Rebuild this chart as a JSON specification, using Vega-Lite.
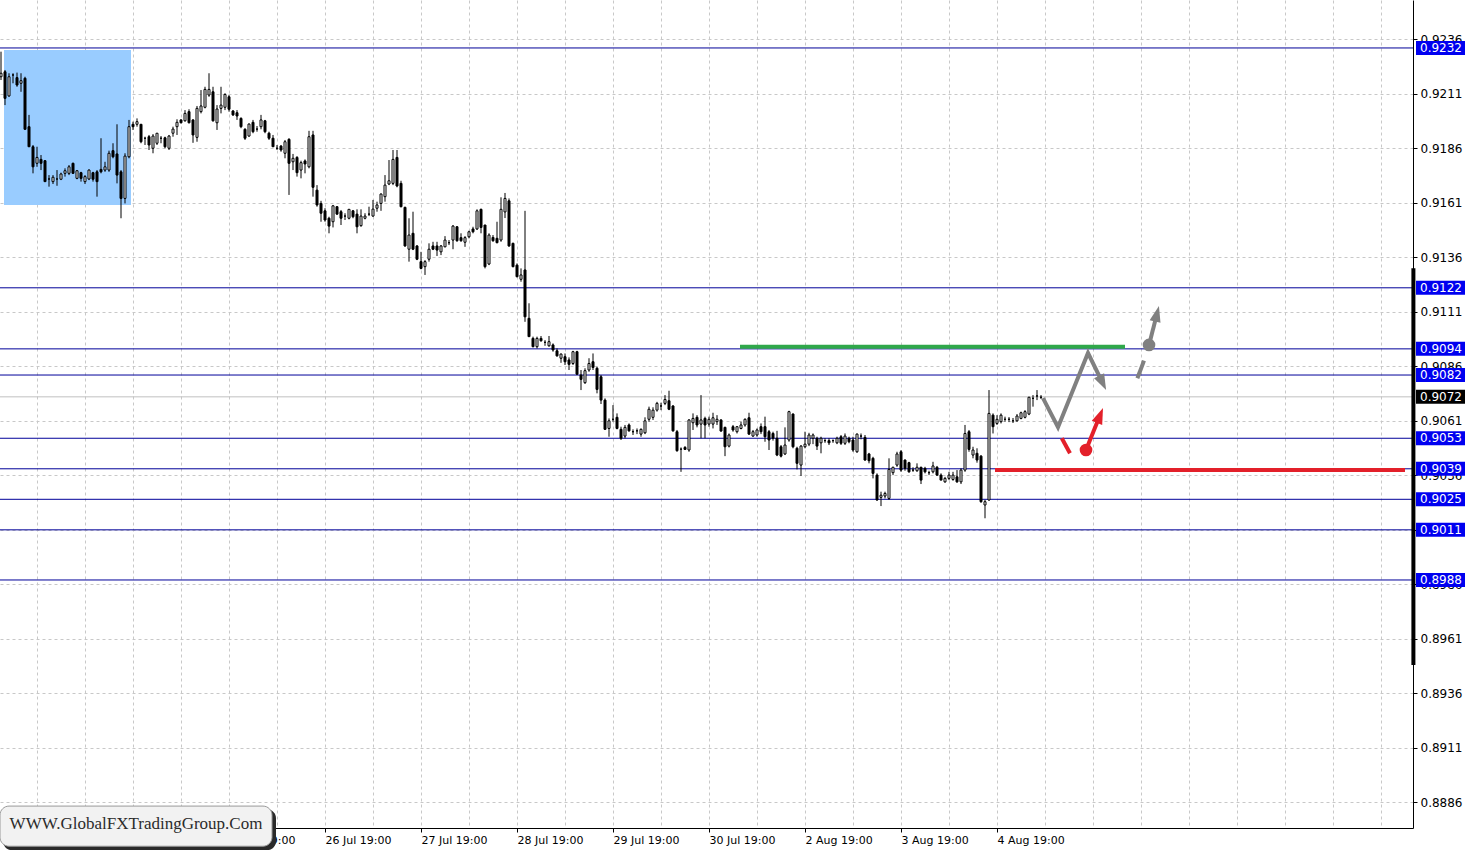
{
"$schema": "https://vega.github.io/schema/vega-lite/v6.json",
"width": 1413, "height": 828, "padding": {"left": 0, "top": 0, "right": 57, "bottom": 22}, "autosize": "none", "background": "white",
"config": {"view": {"stroke": null}, "text": {"font": "DejaVu Sans"}, "scale": {"continuousPadding": 0}},
"datasets": {
"levels": [{"p":0.9232},{"p":0.9122},{"p":0.9094},{"p":0.9082},{"p":0.9053},{"p":0.9039},{"p":0.9025},{"p":0.9011},{"p":0.8988}],
"lines": [
{"g":"zig","k":1,"x":260.5,"y":0.90714},{"g":"zig","k":2,"x":264.25,"y":0.90581},{"g":"zig","k":3,"x":271.75,"y":0.90921},{"g":"zig","k":4,"x":275.4,"y":0.90784},
{"g":"rdash","k":1,"x":265.2,"y":0.9053},{"g":"rdash","k":2,"x":267.25,"y":0.90461},
{"g":"rshaft","k":1,"x":271.25,"y":0.90476},{"g":"rshaft","k":2,"x":274.75,"y":0.90635},
{"g":"gdash","k":1,"x":284.1,"y":0.90805},{"g":"gdash","k":2,"x":285.75,"y":0.90886},
{"g":"gshaft","k":1,"x":287,"y":0.90958},{"g":"gshaft","k":2,"x":289,"y":0.91101}],
"candles": [
{"i":0,"o":0.92188,"h":0.92303,"l":0.92173,"c":0.92204},
{"i":1,"o":0.92211,"h":0.92219,"l":0.92058,"c":0.92089},
{"i":2,"o":0.921,"h":0.92204,"l":0.92096,"c":0.92188},
{"i":3,"o":0.92196,"h":0.92204,"l":0.92158,"c":0.92196},
{"i":4,"o":0.92184,"h":0.92207,"l":0.92142,"c":0.9215},
{"i":5,"o":0.92158,"h":0.92204,"l":0.92119,"c":0.9217},
{"i":6,"o":0.92181,"h":0.92188,"l":0.91944,"c":0.91947},
{"i":7,"o":0.91959,"h":0.92013,"l":0.91867,"c":0.91867},
{"i":8,"o":0.91867,"h":0.91875,"l":0.91745,"c":0.91775},
{"i":9,"o":0.91791,"h":0.91867,"l":0.91775,"c":0.91818},
{"i":10,"o":0.91809,"h":0.91829,"l":0.9176,"c":0.91791},
{"i":11,"o":0.91803,"h":0.91806,"l":0.91707,"c":0.91707},
{"i":12,"o":0.91719,"h":0.91737,"l":0.91684,"c":0.91719},
{"i":13,"o":0.91707,"h":0.91737,"l":0.91696,"c":0.91727},
{"i":14,"o":0.91719,"h":0.9176,"l":0.91688,"c":0.91719},
{"i":15,"o":0.91718,"h":0.91748,"l":0.91714,"c":0.91742},
{"i":16,"o":0.91745,"h":0.91768,"l":0.9173,"c":0.91757},
{"i":17,"o":0.91745,"h":0.91783,"l":0.91737,"c":0.91775},
{"i":18,"o":0.91791,"h":0.91794,"l":0.91742,"c":0.91745},
{"i":19,"o":0.91722,"h":0.9176,"l":0.91718,"c":0.91757},
{"i":20,"o":0.91748,"h":0.91752,"l":0.91707,"c":0.91722},
{"i":21,"o":0.91707,"h":0.91737,"l":0.91696,"c":0.9173},
{"i":22,"o":0.91719,"h":0.91763,"l":0.91714,"c":0.9176},
{"i":23,"o":0.91748,"h":0.91752,"l":0.91707,"c":0.91718},
{"i":24,"o":0.91752,"h":0.9176,"l":0.91638,"c":0.91707},
{"i":25,"o":0.91763,"h":0.91906,"l":0.91745,"c":0.91752},
{"i":26,"o":0.9176,"h":0.91798,"l":0.91752,"c":0.91775},
{"i":27,"o":0.9176,"h":0.91849,"l":0.91752,"c":0.91837},
{"i":28,"o":0.91849,"h":0.91883,"l":0.91814,"c":0.91821},
{"i":29,"o":0.91834,"h":0.9197,"l":0.91699,"c":0.91737},
{"i":30,"o":0.91752,"h":0.9176,"l":0.91539,"c":0.9163},
{"i":31,"o":0.9163,"h":0.91837,"l":0.91607,"c":0.91824},
{"i":32,"o":0.91821,"h":0.9199,"l":0.91814,"c":0.91959},
{"i":33,"o":0.9197,"h":0.91982,"l":0.91944,"c":0.91959},
{"i":34,"o":0.9197,"h":0.91997,"l":0.91959,"c":0.91982},
{"i":35,"o":0.9197,"h":0.9197,"l":0.91883,"c":0.9189},
{"i":36,"o":0.91906,"h":0.91913,"l":0.91875,"c":0.91906},
{"i":37,"o":0.91913,"h":0.91921,"l":0.91852,"c":0.91875},
{"i":38,"o":0.9186,"h":0.91925,"l":0.91837,"c":0.91916},
{"i":39,"o":0.91883,"h":0.91929,"l":0.91875,"c":0.91929},
{"i":40,"o":0.91906,"h":0.91916,"l":0.91883,"c":0.91906},
{"i":41,"o":0.91908,"h":0.91913,"l":0.9186,"c":0.91867},
{"i":42,"o":0.9186,"h":0.91921,"l":0.91852,"c":0.91916},
{"i":43,"o":0.91929,"h":0.91959,"l":0.91913,"c":0.91948},
{"i":44,"o":0.91959,"h":0.91993,"l":0.91921,"c":0.91979},
{"i":45,"o":0.9199,"h":0.91993,"l":0.91974,"c":0.91977},
{"i":46,"o":0.91986,"h":0.92035,"l":0.91982,"c":0.9202},
{"i":47,"o":0.92028,"h":0.92039,"l":0.91974,"c":0.91977},
{"i":48,"o":0.9199,"h":0.91993,"l":0.91885,"c":0.91921},
{"i":49,"o":0.9191,"h":0.92054,"l":0.9189,"c":0.92043},
{"i":50,"o":0.92028,"h":0.92127,"l":0.9202,"c":0.92054},
{"i":51,"o":0.92048,"h":0.92142,"l":0.92043,"c":0.9213},
{"i":52,"o":0.92104,"h":0.92204,"l":0.92096,"c":0.9213},
{"i":53,"o":0.92119,"h":0.92142,"l":0.91982,"c":0.91986},
{"i":54,"o":0.91977,"h":0.92058,"l":0.91944,"c":0.9204},
{"i":55,"o":0.92043,"h":0.92142,"l":0.9202,"c":0.92058},
{"i":56,"o":0.92048,"h":0.92112,"l":0.92035,"c":0.92107},
{"i":57,"o":0.92096,"h":0.92104,"l":0.92028,"c":0.92039},
{"i":58,"o":0.92031,"h":0.92035,"l":0.92008,"c":0.92013},
{"i":59,"o":0.92023,"h":0.92035,"l":0.9199,"c":0.92008},
{"i":60,"o":0.91997,"h":0.92002,"l":0.91952,"c":0.91959},
{"i":61,"o":0.91947,"h":0.91952,"l":0.91898,"c":0.91906},
{"i":62,"o":0.91916,"h":0.91974,"l":0.91913,"c":0.91971},
{"i":63,"o":0.91979,"h":0.9199,"l":0.91929,"c":0.91936},
{"i":64,"o":0.91948,"h":0.91962,"l":0.91936,"c":0.91948},
{"i":65,"o":0.91959,"h":0.92013,"l":0.91947,"c":0.9199},
{"i":66,"o":0.91986,"h":0.9199,"l":0.91929,"c":0.91936},
{"i":67,"o":0.91929,"h":0.91936,"l":0.91898,"c":0.91906},
{"i":68,"o":0.91906,"h":0.91921,"l":0.91867,"c":0.91867},
{"i":69,"o":0.9186,"h":0.91875,"l":0.91852,"c":0.9186},
{"i":70,"o":0.9187,"h":0.91875,"l":0.91844,"c":0.91852},
{"i":71,"o":0.91837,"h":0.91898,"l":0.91814,"c":0.9189},
{"i":72,"o":0.91901,"h":0.91906,"l":0.91646,"c":0.91791},
{"i":73,"o":0.91798,"h":0.91834,"l":0.9176,"c":0.91814},
{"i":74,"o":0.91818,"h":0.91824,"l":0.9173,"c":0.91748},
{"i":75,"o":0.9176,"h":0.91803,"l":0.91722,"c":0.91794},
{"i":76,"o":0.91802,"h":0.91809,"l":0.91745,"c":0.91788},
{"i":77,"o":0.91775,"h":0.9194,"l":0.91768,"c":0.91913},
{"i":78,"o":0.91921,"h":0.9194,"l":0.91638,"c":0.91681},
{"i":79,"o":0.91668,"h":0.91691,"l":0.91592,"c":0.916},
{"i":80,"o":0.91607,"h":0.91619,"l":0.91523,"c":0.91562},
{"i":81,"o":0.91573,"h":0.91585,"l":0.91523,"c":0.91531},
{"i":82,"o":0.91539,"h":0.91546,"l":0.9147,"c":0.91503},
{"i":83,"o":0.91523,"h":0.916,"l":0.91497,"c":0.91596},
{"i":84,"o":0.91592,"h":0.91595,"l":0.91554,"c":0.91558},
{"i":85,"o":0.91569,"h":0.91577,"l":0.91508,"c":0.91539},
{"i":86,"o":0.91549,"h":0.91562,"l":0.91531,"c":0.91549},
{"i":87,"o":0.91539,"h":0.91581,"l":0.91534,"c":0.9158},
{"i":88,"o":0.91573,"h":0.91577,"l":0.91539,"c":0.91546},
{"i":89,"o":0.91558,"h":0.9158,"l":0.9147,"c":0.915},
{"i":90,"o":0.91505,"h":0.9158,"l":0.915,"c":0.91549},
{"i":91,"o":0.91539,"h":0.91562,"l":0.91534,"c":0.91549},
{"i":92,"o":0.91558,"h":0.91592,"l":0.91549,"c":0.91558},
{"i":93,"o":0.91549,"h":0.91623,"l":0.91546,"c":0.91581},
{"i":94,"o":0.91585,"h":0.91615,"l":0.91569,"c":0.916},
{"i":95,"o":0.91607,"h":0.91653,"l":0.91573,"c":0.9165},
{"i":96,"o":0.91638,"h":0.91737,"l":0.91615,"c":0.91691},
{"i":97,"o":0.91696,"h":0.91806,"l":0.91691,"c":0.91711},
{"i":98,"o":0.91699,"h":0.91852,"l":0.91691,"c":0.91809},
{"i":99,"o":0.91818,"h":0.91852,"l":0.91681,"c":0.91687},
{"i":100,"o":0.91699,"h":0.91711,"l":0.91589,"c":0.91592},
{"i":101,"o":0.91589,"h":0.91592,"l":0.91408,"c":0.91412},
{"i":102,"o":0.91397,"h":0.91539,"l":0.9134,"c":0.91462},
{"i":103,"o":0.9147,"h":0.91569,"l":0.91393,"c":0.91397},
{"i":104,"o":0.91412,"h":0.91416,"l":0.91347,"c":0.91351},
{"i":105,"o":0.9134,"h":0.91385,"l":0.91305,"c":0.91309},
{"i":106,"o":0.91317,"h":0.91347,"l":0.91279,"c":0.9134},
{"i":107,"o":0.91351,"h":0.91424,"l":0.9134,"c":0.91397},
{"i":108,"o":0.91412,"h":0.91431,"l":0.91393,"c":0.91397},
{"i":109,"o":0.91412,"h":0.91431,"l":0.91366,"c":0.91393},
{"i":110,"o":0.91385,"h":0.91416,"l":0.9137,"c":0.91412},
{"i":111,"o":0.91408,"h":0.91457,"l":0.91406,"c":0.91439},
{"i":112,"o":0.91427,"h":0.91439,"l":0.91416,"c":0.91427},
{"i":113,"o":0.91439,"h":0.91508,"l":0.91397,"c":0.91503},
{"i":114,"o":0.915,"h":0.91503,"l":0.91431,"c":0.91436},
{"i":115,"o":0.9145,"h":0.9147,"l":0.91431,"c":0.91436},
{"i":116,"o":0.91429,"h":0.91457,"l":0.91408,"c":0.9145},
{"i":117,"o":0.91454,"h":0.91482,"l":0.91447,"c":0.91477},
{"i":118,"o":0.9149,"h":0.915,"l":0.9147,"c":0.91477},
{"i":119,"o":0.9149,"h":0.9158,"l":0.91485,"c":0.91573},
{"i":120,"o":0.9158,"h":0.91583,"l":0.9147,"c":0.91497},
{"i":121,"o":0.91508,"h":0.91508,"l":0.91309,"c":0.91317},
{"i":122,"o":0.91329,"h":0.9147,"l":0.91324,"c":0.91462},
{"i":123,"o":0.91451,"h":0.91462,"l":0.91431,"c":0.91436},
{"i":124,"o":0.91447,"h":0.91523,"l":0.91424,"c":0.91427},
{"i":125,"o":0.91439,"h":0.91635,"l":0.91431,"c":0.9158},
{"i":126,"o":0.91568,"h":0.91655,"l":0.9154,"c":0.9163},
{"i":127,"o":0.91619,"h":0.9163,"l":0.91408,"c":0.91412},
{"i":128,"o":0.91424,"h":0.91427,"l":0.91314,"c":0.91317},
{"i":129,"o":0.91324,"h":0.91332,"l":0.91268,"c":0.91271},
{"i":130,"o":0.91259,"h":0.91309,"l":0.91248,"c":0.91279},
{"i":131,"o":0.91302,"h":0.91573,"l":0.91064,"c":0.91087},
{"i":132,"o":0.9108,"h":0.91149,"l":0.90996,"c":0.90996},
{"i":133,"o":0.90988,"h":0.90996,"l":0.90947,"c":0.9095},
{"i":134,"o":0.9095,"h":0.90996,"l":0.90942,"c":0.90988},
{"i":135,"o":0.90988,"h":0.90999,"l":0.90973,"c":0.90977},
{"i":136,"o":0.9097,"h":0.9098,"l":0.90954,"c":0.9097},
{"i":137,"o":0.90954,"h":0.90999,"l":0.9095,"c":0.90973},
{"i":138,"o":0.90958,"h":0.90965,"l":0.90927,"c":0.90935},
{"i":139,"o":0.90931,"h":0.90942,"l":0.90904,"c":0.90908},
{"i":140,"o":0.90897,"h":0.90919,"l":0.90876,"c":0.90916},
{"i":141,"o":0.90904,"h":0.90919,"l":0.90866,"c":0.90881},
{"i":142,"o":0.90889,"h":0.90901,"l":0.90843,"c":0.90869},
{"i":143,"o":0.90873,"h":0.90931,"l":0.90866,"c":0.90927},
{"i":144,"o":0.90927,"h":0.90931,"l":0.9082,"c":0.90824},
{"i":145,"o":0.9082,"h":0.90843,"l":0.90751,"c":0.908},
{"i":146,"o":0.90785,"h":0.90851,"l":0.90779,"c":0.9084},
{"i":147,"o":0.90843,"h":0.90897,"l":0.90835,"c":0.90873},
{"i":148,"o":0.90881,"h":0.90919,"l":0.90843,"c":0.90855},
{"i":149,"o":0.90851,"h":0.90858,"l":0.90736,"c":0.90754},
{"i":150,"o":0.90812,"h":0.9082,"l":0.90687,"c":0.90705},
{"i":151,"o":0.90705,"h":0.90713,"l":0.90568,"c":0.90571},
{"i":152,"o":0.90575,"h":0.90621,"l":0.90537,"c":0.9061},
{"i":153,"o":0.90617,"h":0.90682,"l":0.90606,"c":0.90617},
{"i":154,"o":0.90626,"h":0.90644,"l":0.90571,"c":0.90575},
{"i":155,"o":0.90571,"h":0.90583,"l":0.90522,"c":0.9053},
{"i":156,"o":0.9054,"h":0.90591,"l":0.9053,"c":0.9058},
{"i":157,"o":0.90591,"h":0.90598,"l":0.9056,"c":0.90564},
{"i":158,"o":0.9056,"h":0.90571,"l":0.90545,"c":0.9056},
{"i":159,"o":0.90564,"h":0.90575,"l":0.90549,"c":0.90564},
{"i":160,"o":0.90549,"h":0.90575,"l":0.90537,"c":0.90571},
{"i":161,"o":0.90555,"h":0.90626,"l":0.90549,"c":0.9061},
{"i":162,"o":0.90617,"h":0.90675,"l":0.90606,"c":0.90663},
{"i":163,"o":0.90626,"h":0.90672,"l":0.90614,"c":0.90659},
{"i":164,"o":0.90659,"h":0.90697,"l":0.90652,"c":0.9069},
{"i":165,"o":0.90678,"h":0.90693,"l":0.90659,"c":0.90678},
{"i":166,"o":0.9069,"h":0.90728,"l":0.90682,"c":0.90708},
{"i":167,"o":0.90702,"h":0.90748,"l":0.90659,"c":0.90663},
{"i":168,"o":0.90678,"h":0.90682,"l":0.9056,"c":0.90564},
{"i":169,"o":0.9056,"h":0.90568,"l":0.90468,"c":0.90473},
{"i":170,"o":0.9048,"h":0.90488,"l":0.90376,"c":0.9048},
{"i":171,"o":0.90488,"h":0.90494,"l":0.90476,"c":0.90479},
{"i":172,"o":0.90476,"h":0.90617,"l":0.90468,"c":0.90614},
{"i":173,"o":0.90601,"h":0.90644,"l":0.90568,"c":0.90621},
{"i":174,"o":0.90626,"h":0.90636,"l":0.9058,"c":0.90591},
{"i":175,"o":0.90595,"h":0.90728,"l":0.9053,"c":0.90614},
{"i":176,"o":0.90621,"h":0.90629,"l":0.9053,"c":0.90591},
{"i":177,"o":0.90595,"h":0.90629,"l":0.90583,"c":0.90617},
{"i":178,"o":0.90595,"h":0.90647,"l":0.90575,"c":0.90624},
{"i":179,"o":0.90606,"h":0.90636,"l":0.90591,"c":0.90617},
{"i":180,"o":0.90614,"h":0.90617,"l":0.9056,"c":0.90563},
{"i":181,"o":0.9058,"h":0.90583,"l":0.90448,"c":0.90491},
{"i":182,"o":0.90494,"h":0.90552,"l":0.90488,"c":0.90545},
{"i":183,"o":0.90583,"h":0.90591,"l":0.9056,"c":0.90568},
{"i":184,"o":0.9056,"h":0.90586,"l":0.90552,"c":0.90583},
{"i":185,"o":0.90575,"h":0.90606,"l":0.90571,"c":0.90591},
{"i":186,"o":0.90591,"h":0.90621,"l":0.90583,"c":0.90617},
{"i":187,"o":0.90624,"h":0.90647,"l":0.90545,"c":0.90549},
{"i":188,"o":0.9054,"h":0.90568,"l":0.90537,"c":0.9056},
{"i":189,"o":0.90545,"h":0.90575,"l":0.90537,"c":0.90568},
{"i":190,"o":0.90583,"h":0.90598,"l":0.90549,"c":0.9056},
{"i":191,"o":0.90583,"h":0.90629,"l":0.90514,"c":0.90537},
{"i":192,"o":0.9056,"h":0.90568,"l":0.90476,"c":0.90522},
{"i":193,"o":0.90552,"h":0.9056,"l":0.90519,"c":0.9053},
{"i":194,"o":0.9053,"h":0.90564,"l":0.90448,"c":0.90453},
{"i":195,"o":0.90491,"h":0.90499,"l":0.90442,"c":0.90448},
{"i":196,"o":0.90458,"h":0.9058,"l":0.90453,"c":0.90499},
{"i":197,"o":0.90522,"h":0.90656,"l":0.90514,"c":0.90652},
{"i":198,"o":0.90641,"h":0.90644,"l":0.90484,"c":0.90491},
{"i":199,"o":0.90484,"h":0.90491,"l":0.90387,"c":0.90415},
{"i":200,"o":0.90407,"h":0.90499,"l":0.90357,"c":0.90494},
{"i":201,"o":0.90491,"h":0.9056,"l":0.90484,"c":0.90503},
{"i":202,"o":0.90503,"h":0.90555,"l":0.90494,"c":0.90545},
{"i":203,"o":0.9053,"h":0.90552,"l":0.90503,"c":0.90545},
{"i":204,"o":0.9053,"h":0.90537,"l":0.90476,"c":0.90494},
{"i":205,"o":0.90509,"h":0.90537,"l":0.90461,"c":0.9053},
{"i":206,"o":0.90519,"h":0.9053,"l":0.90509,"c":0.90519},
{"i":207,"o":0.90519,"h":0.9053,"l":0.90499,"c":0.90509},
{"i":208,"o":0.90519,"h":0.90525,"l":0.90509,"c":0.90519},
{"i":209,"o":0.90509,"h":0.90537,"l":0.90503,"c":0.9053},
{"i":210,"o":0.90537,"h":0.90545,"l":0.90499,"c":0.90507},
{"i":211,"o":0.90507,"h":0.90552,"l":0.90499,"c":0.9054},
{"i":212,"o":0.9053,"h":0.90537,"l":0.90507,"c":0.90514},
{"i":213,"o":0.90522,"h":0.90537,"l":0.90468,"c":0.90476},
{"i":214,"o":0.90468,"h":0.90552,"l":0.90463,"c":0.90549},
{"i":215,"o":0.9054,"h":0.90552,"l":0.90525,"c":0.9054},
{"i":216,"o":0.90534,"h":0.90545,"l":0.90427,"c":0.9043},
{"i":217,"o":0.90458,"h":0.90463,"l":0.90415,"c":0.90427},
{"i":218,"o":0.90438,"h":0.90445,"l":0.90346,"c":0.90369},
{"i":219,"o":0.90361,"h":0.90369,"l":0.90243,"c":0.90247},
{"i":220,"o":0.90259,"h":0.90285,"l":0.90219,"c":0.90269},
{"i":221,"o":0.90265,"h":0.90285,"l":0.90254,"c":0.90277},
{"i":222,"o":0.90254,"h":0.90438,"l":0.90247,"c":0.90387},
{"i":223,"o":0.90372,"h":0.90399,"l":0.90361,"c":0.90397},
{"i":224,"o":0.90407,"h":0.90468,"l":0.90399,"c":0.90458},
{"i":225,"o":0.90468,"h":0.90476,"l":0.90376,"c":0.90384},
{"i":226,"o":0.9043,"h":0.90433,"l":0.90381,"c":0.90392},
{"i":227,"o":0.90418,"h":0.90422,"l":0.90372,"c":0.90376},
{"i":228,"o":0.90384,"h":0.90397,"l":0.90376,"c":0.90384},
{"i":229,"o":0.90381,"h":0.90415,"l":0.90376,"c":0.90397},
{"i":230,"o":0.90397,"h":0.90399,"l":0.9032,"c":0.90338},
{"i":231,"o":0.90392,"h":0.90399,"l":0.90369,"c":0.90376},
{"i":232,"o":0.90372,"h":0.90381,"l":0.90361,"c":0.90372},
{"i":233,"o":0.90376,"h":0.90422,"l":0.90369,"c":0.90403},
{"i":234,"o":0.90397,"h":0.90403,"l":0.90357,"c":0.90361},
{"i":235,"o":0.90361,"h":0.90369,"l":0.90338,"c":0.90338},
{"i":236,"o":0.9033,"h":0.90353,"l":0.90326,"c":0.90346},
{"i":237,"o":0.90346,"h":0.90376,"l":0.90338,"c":0.90361},
{"i":238,"o":0.90341,"h":0.90376,"l":0.90335,"c":0.90361},
{"i":239,"o":0.90353,"h":0.90384,"l":0.90326,"c":0.9033},
{"i":240,"o":0.9033,"h":0.90392,"l":0.9032,"c":0.90384},
{"i":241,"o":0.90384,"h":0.90591,"l":0.90376,"c":0.90552},
{"i":242,"o":0.9056,"h":0.90568,"l":0.90468,"c":0.90479},
{"i":243,"o":0.90453,"h":0.90491,"l":0.90438,"c":0.90476},
{"i":244,"o":0.90461,"h":0.90484,"l":0.90418,"c":0.9043},
{"i":245,"o":0.90448,"h":0.90453,"l":0.90234,"c":0.90239},
{"i":246,"o":0.90224,"h":0.90247,"l":0.90163,"c":0.90239},
{"i":247,"o":0.90247,"h":0.90751,"l":0.90243,"c":0.90644},
{"i":248,"o":0.90636,"h":0.90644,"l":0.90552,"c":0.90583},
{"i":249,"o":0.90598,"h":0.90636,"l":0.90591,"c":0.90617},
{"i":250,"o":0.90606,"h":0.90644,"l":0.90598,"c":0.90636},
{"i":251,"o":0.90617,"h":0.90629,"l":0.90606,"c":0.90617},
{"i":252,"o":0.90617,"h":0.90627,"l":0.90604,"c":0.90617},
{"i":253,"o":0.9061,"h":0.90623,"l":0.906,"c":0.9061},
{"i":254,"o":0.9061,"h":0.90641,"l":0.90606,"c":0.90632},
{"i":255,"o":0.90621,"h":0.90652,"l":0.90617,"c":0.90647},
{"i":256,"o":0.90626,"h":0.90659,"l":0.90621,"c":0.90652},
{"i":257,"o":0.90641,"h":0.9072,"l":0.90636,"c":0.90718},
{"i":258,"o":0.90713,"h":0.90728,"l":0.90675,"c":0.90713},
{"i":259,"o":0.90724,"h":0.90751,"l":0.90705,"c":0.90724},
{"i":260,"o":0.90718,"h":0.90728,"l":0.9071,"c":0.90718}
]
},
"layer": [
{"data": {"values": [{"x": 0.75, "x2": 32.5, "y": 0.92311, "y2": 0.916}]},
 "mark": {"type": "rect", "color": "#99CCFF"},
 "encoding": {
  "x": {"field": "x", "type": "quantitative", "scale": {"domain": [-0.25, 353], "nice": false, "zero": false, "padding": 0},
   "axis": {"values": [9,21,33,45,57,69,81,93,105,117,129,141,153,165,177,189,201,213,225,237,249,261,273,285,297,309,321,333,345],
    "labelExpr": "(datum.value-9)%24==0 ? (['21 Jul 19:00','22 Jul 19:00','23 Jul 19:00','26 Jul 19:00','27 Jul 19:00','28 Jul 19:00','29 Jul 19:00','30 Jul 19:00','2 Aug 19:00','3 Aug 19:00','4 Aug 19:00'][(datum.value-9)/24] || '') : ''",
    "grid": true, "gridColor": "#c8c8c8", "gridDash": [3, 3], "gridWidth": 1,
    "domainColor": "#000000", "domainWidth": 1, "tickSize": 4,
    "tickColor": {"condition": {"test": "(datum.value-9)%24==0 && datum.value<=249", "value": "#000000"}, "value": "transparent"},
    "labelAlign": "left", "labelBaseline": "top", "labelPadding": 2, "labelFont": "DejaVu Sans", "labelFontSize": 11, "labelColor": "#000000",
    "labelOverlap": false, "labelFlush": false, "labelBound": false, "title": null}},
  "x2": {"field": "x2"},
  "y": {"field": "y", "type": "quantitative", "scale": {"domain": [0.887425, 0.9254], "nice": false, "zero": false, "padding": 0},
   "axis": {"orient": "right", "values": [0.9236,0.9211,0.9186,0.9161,0.9136,0.9111,0.9086,0.9061,0.9036,0.9011,0.8986,0.8961,0.8936,0.8911,0.8886],
    "format": ".4f", "grid": true, "gridColor": "#c8c8c8", "gridDash": [3, 3], "gridWidth": 1,
    "domainColor": "#000000", "tickColor": "#000000", "tickSize": 4, "labelPadding": 3,
    "labelFont": "DejaVu Sans", "labelFontSize": 12, "labelColor": "#000000", "labelBaseline": "middle",
    "labelOverlap": false, "labelFlush": false, "labelBound": false, "title": null}},
  "y2": {"field": "y2"}}},
{"data": {"values": [{"p": 0.9072}]},
 "mark": {"type": "rule", "color": "#C0C0C0", "strokeWidth": 1},
 "encoding": {"y": {"field": "p", "type": "quantitative", "axis": {"title": null}}}},
{"data": {"name": "levels"},
 "mark": {"type": "rule", "color": "#000099", "strokeWidth": 1},
 "encoding": {"y": {"field": "p", "type": "quantitative", "axis": {"title": null}}}},
{"data": {"name": "candles"},
 "mark": {"type": "rule", "color": "#000000", "strokeWidth": 1},
 "encoding": {"x": {"field": "i", "type": "quantitative", "axis": {"title": null}}, "y": {"field": "l", "type": "quantitative", "axis": {"title": null}}, "y2": {"field": "h"}}},
{"data": {"name": "candles"},
 "mark": {"type": "bar", "width": 2, "stroke": "#000000", "strokeWidth": 1},
 "encoding": {"x": {"field": "i", "type": "quantitative", "axis": {"title": null}}, "y": {"field": "o", "type": "quantitative", "axis": {"title": null}}, "y2": {"field": "c"},
  "fill": {"condition": {"test": "datum.c >= datum.o", "value": "#ffffff"}, "value": "#000000"}}},
{"data": {"values": [{"x": 184.75, "x2": 281, "p": 0.9095}]},
 "mark": {"type": "rule", "color": "#2FA84A", "strokeWidth": 4},
 "encoding": {"x": {"field": "x", "type": "quantitative", "axis": {"title": null}}, "x2": {"field": "x2"}, "y": {"field": "p", "type": "quantitative", "axis": {"title": null}}}},
{"data": {"values": [{"x": 248.5, "x2": 351, "p": 0.90384}]},
 "mark": {"type": "rule", "color": "#E3202A", "strokeWidth": 4},
 "encoding": {"x": {"field": "x", "type": "quantitative", "axis": {"title": null}}, "x2": {"field": "x2"}, "y": {"field": "p", "type": "quantitative", "axis": {"title": null}}}},
{"data": {"name": "lines"},
 "transform": [{"filter": "datum.g=='zig' || datum.g=='gdash' || datum.g=='gshaft'"}],
 "mark": {"type": "line", "color": "#808080", "strokeWidth": 4, "strokeCap": "butt"},
 "encoding": {"x": {"field": "x", "type": "quantitative", "axis": {"title": null}}, "y": {"field": "y", "type": "quantitative", "axis": {"title": null}}, "detail": {"field": "g"}, "order": {"field": "k"}}},
{"data": {"name": "lines"},
 "transform": [{"filter": "datum.g=='rdash' || datum.g=='rshaft'"}],
 "mark": {"type": "line", "color": "#E3202A", "strokeWidth": 4, "strokeCap": "butt"},
 "encoding": {"x": {"field": "x", "type": "quantitative", "axis": {"title": null}}, "y": {"field": "y", "type": "quantitative", "axis": {"title": null}}, "detail": {"field": "g"}, "order": {"field": "k"}}},
{"data": {"values": [{"x": 275.4, "y": 0.90784}]},
 "mark": {"type": "point", "shape": "M0,-1L0.7,1L-0.7,1Z", "size": 256, "filled": true, "opacity": 1, "color": "#808080", "angle": 154},
 "encoding": {"x": {"field": "x", "type": "quantitative", "axis": {"title": null}}, "y": {"field": "y", "type": "quantitative", "axis": {"title": null}}}},
{"data": {"values": [{"x": 289, "y": 0.91101}]},
 "mark": {"type": "point", "shape": "M0,-1L0.7,1L-0.7,1Z", "size": 256, "filled": true, "opacity": 1, "color": "#808080", "angle": 14},
 "encoding": {"x": {"field": "x", "type": "quantitative", "axis": {"title": null}}, "y": {"field": "y", "type": "quantitative", "axis": {"title": null}}}},
{"data": {"values": [{"x": 274.75, "y": 0.90635}]},
 "mark": {"type": "point", "shape": "M0,-1L0.7,1L-0.7,1Z", "size": 256, "filled": true, "opacity": 1, "color": "#E3202A", "angle": 22},
 "encoding": {"x": {"field": "x", "type": "quantitative", "axis": {"title": null}}, "y": {"field": "y", "type": "quantitative", "axis": {"title": null}}}},
{"data": {"values": [{"x": 287, "y": 0.90958}]},
 "mark": {"type": "circle", "size": 160, "opacity": 1, "color": "#808080"},
 "encoding": {"x": {"field": "x", "type": "quantitative", "axis": {"title": null}}, "y": {"field": "y", "type": "quantitative", "axis": {"title": null}}}},
{"data": {"values": [{"x": 271.25, "y": 0.90476}]},
 "mark": {"type": "circle", "size": 160, "opacity": 1, "color": "#E3202A"},
 "encoding": {"x": {"field": "x", "type": "quantitative", "axis": {"title": null}}, "y": {"field": "y", "type": "quantitative", "axis": {"title": null}}}},
{"data": {"values": [{"p": 0.9131, "p2": 0.8949}]},
 "mark": {"type": "rule", "color": "#000000", "strokeWidth": 4},
 "encoding": {"x": {"datum": 353.1, "type": "quantitative", "axis": {"title": null}}, "y": {"field": "p", "type": "quantitative", "axis": {"title": null}}, "y2": {"field": "p2"}}},
{"data": {"name": "levels"},
 "mark": {"type": "bar", "height": 14, "color": "#0000F0"},
 "encoding": {"x": {"datum": 353.75, "type": "quantitative", "axis": {"title": null}}, "x2": {"datum": 366}, "y": {"field": "p", "type": "quantitative", "axis": {"title": null}}}},
{"data": {"values": [{"p": 0.9072}]},
 "mark": {"type": "bar", "height": 14, "color": "#000000"},
 "encoding": {"x": {"datum": 353.75, "type": "quantitative", "axis": {"title": null}}, "x2": {"datum": 366}, "y": {"field": "p", "type": "quantitative", "axis": {"title": null}}}},
{"data": {"name": "levels"},
 "mark": {"type": "text", "align": "left", "baseline": "middle", "color": "#ffffff", "font": "DejaVu Sans", "fontSize": 12},
 "encoding": {"x": {"datum": 354.75, "type": "quantitative", "axis": {"title": null}}, "y": {"field": "p", "type": "quantitative", "axis": {"title": null}}, "text": {"field": "p", "type": "quantitative", "format": ".4f"}}},
{"data": {"values": [{"p": 0.9072}]},
 "mark": {"type": "text", "align": "left", "baseline": "middle", "color": "#ffffff", "font": "DejaVu Sans", "fontSize": 12},
 "encoding": {"x": {"datum": 354.75, "type": "quantitative", "axis": {"title": null}}, "y": {"field": "p", "type": "quantitative", "axis": {"title": null}}, "text": {"field": "p", "type": "quantitative", "format": ".4f"}}},
{"data": {"values": [{"t": "WWW.GlobalFXTradingGroup.Com"}]},
 "mark": {"type": "rect", "color": "#2a2a2a", "cornerRadius": 9},
 "encoding": {"x": {"datum": 0.5, "type": "quantitative", "axis": {"title": null}}, "x2": {"datum": 68.75}, "y": {"datum": 0.88829, "type": "quantitative", "axis": {"title": null}}, "y2": {"datum": 0.88641}}},
{"data": {"values": [{"t": "WWW.GlobalFXTradingGroup.Com"}]},
 "mark": {"type": "rect", "fill": "#F2F2F2", "stroke": "#9a9a9a", "strokeWidth": 1, "cornerRadius": 9},
 "encoding": {"x": {"datum": -0.25, "type": "quantitative", "axis": {"title": null}}, "x2": {"datum": 67.75}, "y": {"datum": 0.88843, "type": "quantitative", "axis": {"title": null}}, "y2": {"datum": 0.88659}}},
{"data": {"values": [{"t": "WWW.GlobalFXTradingGroup.Com"}]},
 "mark": {"type": "text", "align": "center", "baseline": "middle", "color": "#2b2b2b", "font": "Liberation Serif", "fontSize": 17},
 "encoding": {"x": {"datum": 33.75, "type": "quantitative", "axis": {"title": null}}, "y": {"datum": 0.8876, "type": "quantitative", "axis": {"title": null}}, "text": {"field": "t"}}}
]
}
